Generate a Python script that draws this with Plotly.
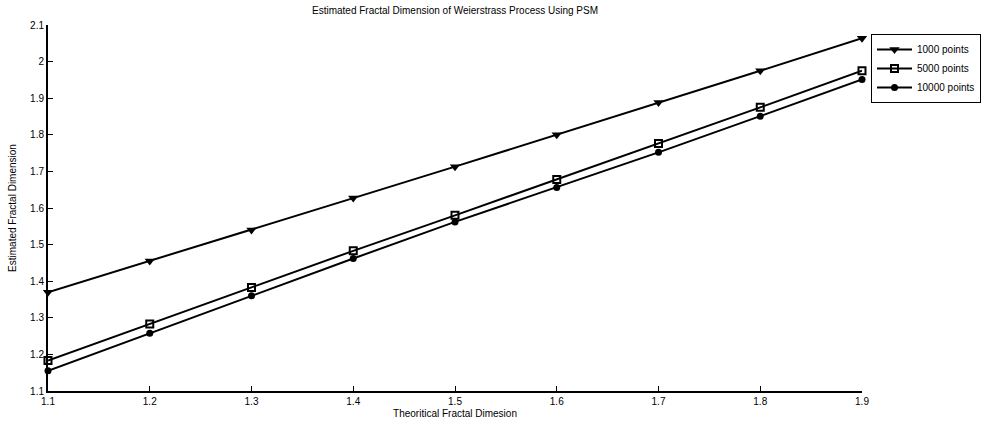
import plotly.graph_objects as go

x_vals = [1.1, 1.2, 1.3, 1.4, 1.5, 1.6, 1.7, 1.8, 1.9]
y_1000 = [1.37, 1.455, 1.54, 1.627, 1.713, 1.80, 1.888, 1.975, 2.064]
y_5000 = [1.183, 1.283, 1.383, 1.483, 1.58, 1.678, 1.776, 1.875, 1.975]
y_10000 = [1.155, 1.258, 1.36, 1.462, 1.562, 1.656, 1.752, 1.851, 1.951]
x_ticks = [1.1, 1.2, 1.3, 1.4, 1.5, 1.6, 1.7, 1.8, 1.9]
x_ticklabels = ["1.1", "1.2", "1.3", "1.4", "1.5", "1.6", "1.7", "1.8", "1.9"]
y_ticks = [1.1, 1.2, 1.3, 1.4, 1.5, 1.6, 1.7, 1.8, 1.9, 2.0, 2.1]
y_ticklabels = ["1.1", "1.2", "1.3", "1.4", "1.5", "1.6", "1.7", "1.8", "1.9", "2", "2.1"]

FONT = "Liberation Sans, Arial, sans-serif"

L, R, T, B = 48, 862, 25, 391
W, H = 986, 426

fig = go.Figure()
series = [
    ("1000 points", y_1000, dict(symbol="triangle-down", size=9, color="black")),
    ("5000 points", y_5000, dict(symbol="square-open", size=7, color="black", line=dict(width=2, color="black"))),
    ("10000 points", y_10000, dict(symbol="circle", size=7, color="black")),
]
for name, ys, mk in series:
    fig.add_trace(go.Scatter(x=x_vals, y=ys, name=name, mode="lines+markers",
                             line=dict(color="black", width=2), marker=mk,
                             cliponaxis=False))

fig.update_layout(
    width=W, height=H,
    margin=dict(l=L, r=W - R, t=T, b=H - B, autoexpand=False),
    paper_bgcolor="white", plot_bgcolor="white",
    font=dict(family=FONT, size=10, color="black"),
    title=dict(text="Estimated Fractal Dimension of Weierstrass Process Using PSM",
               x=(L + R) / 2 / W, xanchor="center", y=1 - 10 / H, yanchor="middle",
               font=dict(size=10)),
    legend=dict(x=(871 - L) / (R - L), y=(B - 34) / (B - T), xanchor="left", yanchor="top",
                bordercolor="black", borderwidth=1, bgcolor="white",
                font=dict(size=10), tracegroupgap=0, itemwidth=35),
    showlegend=True,
)
fig.update_xaxes(range=[1.1, 1.9], tickvals=x_ticks, ticktext=x_ticklabels,
                 showline=True, linecolor="black", linewidth=2, ticks="inside", ticklen=5,
                 tickcolor="black", showgrid=False, zeroline=False,
                 title=dict(text="Theoritical Fractal Dimesion", standoff=4, font=dict(size=10)))
fig.update_yaxes(range=[1.1, 2.1], tickvals=y_ticks, ticktext=y_ticklabels,
                 showline=True, linecolor="black", linewidth=2, ticks="inside", ticklen=5,
                 tickcolor="black", showgrid=False, zeroline=False,
                 title=dict(text="Estimated Fractal Dimension", standoff=12, font=dict(size=10)))

fig.write_html("out.html")
